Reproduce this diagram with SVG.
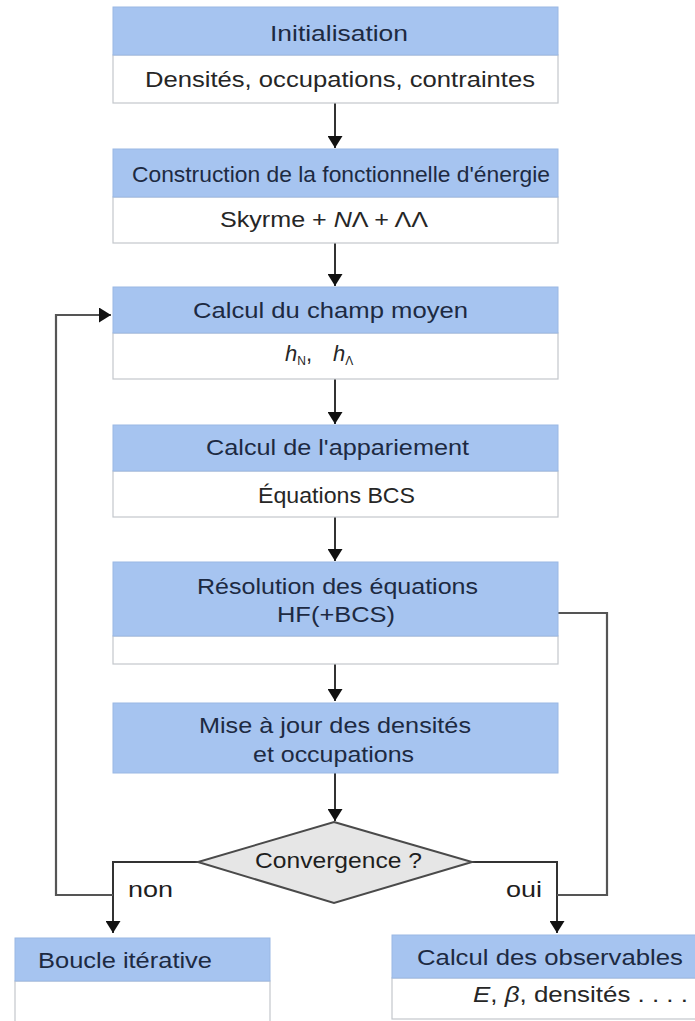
<svg xmlns="http://www.w3.org/2000/svg" width="695" height="1021" viewBox="0 0 695 1021">
<defs>
<style>
.hdr{fill:#a6c4f0;stroke:#9ab8e4;stroke-width:1}
.body{fill:#ffffff;stroke:#c3c7cc;stroke-width:1.2}
.ht{font-family:"Liberation Sans",Arial,sans-serif;font-size:22px;fill:#1d2a42}
.bt{font-family:"Liberation Sans",Arial,sans-serif;font-size:22px;fill:#262626}
.lbl{font-family:"Liberation Sans",Arial,sans-serif;font-size:22px;fill:#1e1e1e}
.con{fill:none;stroke:#333333;stroke-width:2}
.loop{fill:none;stroke:#555555;stroke-width:2.2}
.dia{fill:#e6e6e6;stroke:#4a4a4a;stroke-width:2}
</style>
<marker id="arr" viewBox="0 0 12 15" refX="12" refY="7.5" markerWidth="12" markerHeight="15" markerUnits="userSpaceOnUse" orient="auto">
<path d="M0,0 L12,7.5 L0,15 Z" fill="#111111"/>
</marker>
</defs>
<rect width="695" height="1021" fill="#ffffff"/>

<g id="connectors">
<line class="con" x1="335" y1="103" x2="335" y2="148" marker-end="url(#arr)"/>
<line class="con" x1="335" y1="243" x2="335" y2="286" marker-end="url(#arr)"/>
<line class="con" x1="335" y1="379" x2="335" y2="424" marker-end="url(#arr)"/>
<line class="con" x1="335" y1="517" x2="335" y2="561" marker-end="url(#arr)"/>
<line class="con" x1="335" y1="636" x2="335" y2="701" marker-end="url(#arr)"/>
<line class="con" x1="335" y1="773" x2="335" y2="821" marker-end="url(#arr)"/>
<polyline class="con" points="198,862 113,862 113,933" marker-end="url(#arr)"/>
<polyline class="con" points="472,862 557,862 557,933" marker-end="url(#arr)"/>
<polyline class="loop" points="113,895 56,895 56,315 111,315" marker-end="url(#arr)"/>
<polyline class="loop" points="558,613 607,613 607,895 557,895"/>
</g>

<g id="node-init">
<rect class="body" x="113" y="55" width="445" height="48"/>
<rect class="hdr" x="113" y="7" width="445" height="48"/>
<text class="ht" x="270" y="41" textLength="138" lengthAdjust="spacingAndGlyphs">Initialisation</text>
<text class="bt" x="145" y="87" textLength="390" lengthAdjust="spacingAndGlyphs">Densités, occupations, contraintes</text>
</g>

<g id="node-fonctionnelle">
<rect class="body" x="113" y="197" width="445" height="46"/>
<rect class="hdr" x="113" y="149" width="445" height="48"/>
<text class="ht" x="132" y="182" textLength="418" lengthAdjust="spacingAndGlyphs">Construction de la fonctionnelle d'énergie</text>
<text class="bt" x="220" y="227" textLength="208" lengthAdjust="spacingAndGlyphs">Skyrme + <tspan font-style="italic">N</tspan>Λ + ΛΛ</text>
</g>

<g id="node-champ">
<rect class="body" x="113" y="333" width="445" height="46"/>
<rect class="hdr" x="113" y="287" width="445" height="46"/>
<text class="ht" x="193" y="318" textLength="275" lengthAdjust="spacingAndGlyphs">Calcul du champ moyen</text>
<text class="bt" y="361"><tspan x="285" font-style="italic">h</tspan><tspan font-size="12" dy="4">N</tspan><tspan dy="-4">,</tspan><tspan x="333" font-style="italic">h</tspan><tspan font-size="12" dy="4">Λ</tspan></text>
</g>

<g id="node-appariement">
<rect class="body" x="113" y="471" width="445" height="46"/>
<rect class="hdr" x="113" y="425" width="445" height="46"/>
<text class="ht" x="206" y="455" textLength="263" lengthAdjust="spacingAndGlyphs">Calcul de l'appariement</text>
<text class="bt" x="258" y="503" textLength="157" lengthAdjust="spacingAndGlyphs">Équations BCS</text>
</g>

<g id="node-resolution">
<rect class="body" x="113" y="636" width="445" height="28"/>
<rect class="hdr" x="113" y="562" width="445" height="74"/>
<text class="ht" x="197" y="594" textLength="281" lengthAdjust="spacingAndGlyphs">Résolution des équations</text>
<text class="ht" x="277" y="622" textLength="118" lengthAdjust="spacingAndGlyphs">HF(+BCS)</text>
</g>

<g id="node-miseajour">
<rect class="hdr" x="113" y="703" width="445" height="70"/>
<text class="ht" x="199" y="733" textLength="272" lengthAdjust="spacingAndGlyphs">Mise à jour des densités</text>
<text class="ht" x="253" y="762" textLength="161" lengthAdjust="spacingAndGlyphs">et occupations</text>
</g>

<g id="node-convergence">
<polygon class="dia" points="334,822 472,862 334,903 198,862"/>
<text class="lbl" x="255" y="868" textLength="167" lengthAdjust="spacingAndGlyphs">Convergence ?</text>
</g>

<g id="labels">
<text class="lbl" x="128" y="897" textLength="45" lengthAdjust="spacingAndGlyphs">non</text>
<text class="lbl" x="506" y="897" textLength="36" lengthAdjust="spacingAndGlyphs">oui</text>
</g>

<g id="node-boucle">
<rect class="body" x="15" y="981" width="255" height="50"/>
<rect class="hdr" x="15" y="938" width="255" height="43"/>
<text class="ht" x="38" y="968" textLength="174" lengthAdjust="spacingAndGlyphs">Boucle itérative</text>
</g>

<g id="node-observables">
<rect class="body" x="392" y="978" width="310" height="41"/>
<rect class="hdr" x="392" y="935" width="310" height="43"/>
<text class="ht" x="417" y="965" textLength="266" lengthAdjust="spacingAndGlyphs">Calcul des observables</text>
<text class="bt" x="473" y="1002" textLength="215" lengthAdjust="spacingAndGlyphs"><tspan font-style="italic">E</tspan>,  <tspan font-style="italic">β</tspan>, densités . . . .</text>
</g>
</svg>
